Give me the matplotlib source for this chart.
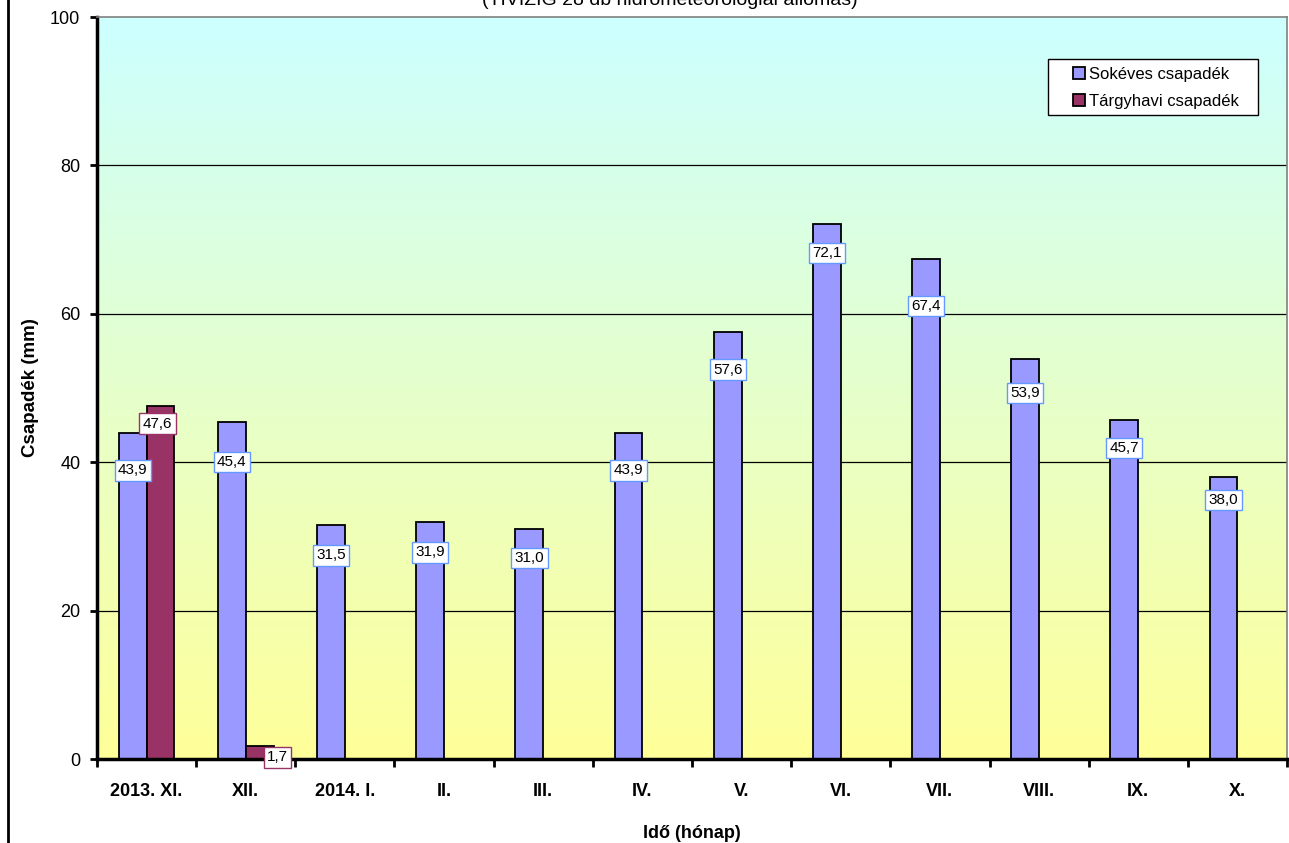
import numpy as np
import matplotlib
matplotlib.use('Agg')
import matplotlib.pyplot as plt
from matplotlib.colors import LinearSegmentedColormap
from matplotlib.lines import Line2D
from matplotlib.patches import Rectangle

plt.rcParams['font.family'] = ['Liberation Sans', 'DejaVu Sans']

months = ['2013. XI.', 'XII.', '2014. I.', 'II.', 'III.', 'IV.', 'V.',
          'VI.', 'VII.', 'VIII.', 'IX.', 'X.']
sokeves = [43.9, 45.4, 31.5, 31.9, 31.0, 43.9, 57.6, 72.1, 67.4, 53.9, 45.7, 38.0]
targyhavi = [47.6, 1.7]
title = '(TIVIZIG 28 db hidrometeorológiai állomás)'

# label placement (pixels below bar top), as in the original layout
blue_off = [37, 40, 30, 30, 29, 37, 38, 29, 47, 34, 28, 23]
red_off = [(-3, -18), (18, -11)]

W, H = 1289, 843
fig = plt.figure(figsize=(W / 100, H / 100), dpi=100)
ax = fig.add_axes([97 / W, 1 - 759 / H, 1190 / W, 742 / H])

x = np.arange(len(months))
w = 0.28

# gradient background
cmap = LinearSegmentedColormap.from_list('bg', ['#FFFF99', '#CCFFFF'])
grad = np.linspace(0, 1, 256).reshape(-1, 1)
ax.imshow(grad, cmap=cmap, origin='lower', aspect='auto',
          extent=[-0.5, 11.5, 0, 100], zorder=0)

for yv in [20, 40, 60, 80]:
    ax.axhline(yv, color='black', lw=0.9, zorder=1)

ax.bar(x - w / 2, sokeves, w, color='#9999FF', edgecolor='black', lw=1.3,
       zorder=2, label='Sokéves csapadék')
ax.bar(x[:len(targyhavi)] + w / 2, targyhavi, w, color='#993366',
       edgecolor='black', lw=1.3, zorder=2, label='Tárgyhavi csapadék')

for i, v in enumerate(sokeves):
    ax.annotate(f'{v:.1f}'.replace('.', ','), (x[i] - w / 2, v),
                xytext=(0, -blue_off[i]), textcoords='offset pixels',
                ha='center', va='center', fontsize=11, zorder=5,
                bbox=dict(boxstyle='square,pad=0.22', fc='white',
                          ec='#6699FF', lw=1))
for i, v in enumerate(targyhavi):
    dx, dy = red_off[i]
    ax.annotate(f'{v:.1f}'.replace('.', ','), (x[i] + w / 2, v),
                xytext=(dx, dy), textcoords='offset pixels',
                ha='center', va='center', fontsize=11, zorder=5,
                bbox=dict(boxstyle='square,pad=0.22', fc='white',
                          ec='#993366', lw=1))

ax.set_xlim(-0.5, 11.5)
ax.set_ylim(0, 100)
ax.set_yticks([0, 20, 40, 60, 80, 100])
ax.tick_params(axis='y', labelsize=13, length=5, width=2, pad=7,
               direction='out')
ax.set_xticks(np.arange(-0.5, 12, 1))
ax.set_xticklabels([])
ax.set_xticks(x, minor=True)
ax.set_xticklabels(months, minor=True, fontsize=13, fontweight='bold')
ax.tick_params(axis='x', which='major', length=6, width=2, direction='out')
ax.tick_params(axis='x', which='minor', length=0, pad=17)

for s in ['left', 'bottom']:
    ax.spines[s].set_linewidth(2.5)
    ax.spines[s].set_color('black')
for s in ['top', 'right']:
    ax.spines[s].set_linewidth(1.2)
    ax.spines[s].set_color('#808080')

ax.set_ylabel('Csapadék (mm)', fontsize=13.5, fontweight='bold', labelpad=8)
ax.set_xlabel('Idő (hónap)', fontsize=13, fontweight='bold', labelpad=18)

# legend box (Excel style: wider than its contents)
ax.add_patch(Rectangle(((1048 - 97) / 1190, (759 - 115) / 742), 210 / 1190,
                       56 / 742, transform=ax.transAxes, fc='white',
                       ec='black', lw=1, zorder=6, clip_on=False))
leg = ax.legend(loc='upper left',
                bbox_to_anchor=((1073 - 97) / 1190, (759 - 67) / 742),
                fontsize=12, frameon=False, borderpad=0, borderaxespad=0,
                handlelength=0.7, handleheight=0.7, handletextpad=0.25,
                labelspacing=0.72)
leg.set_zorder(7)

fig.text(670 / W, 1 - 5 / H, title, ha='center', va='baseline', fontsize=14)
fig.add_artist(Line2D([8 / W, 8 / W], [0, 1], color='black', lw=2))

fig.savefig('out.png', dpi=100)
